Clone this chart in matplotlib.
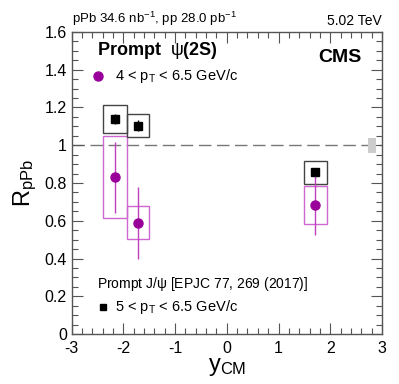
import matplotlib
matplotlib.use("Agg")
import matplotlib.pyplot as plt
import matplotlib.ticker as ticker
from matplotlib.patches import Rectangle

plt.rcParams['font.family'] = ['Liberation Sans', 'DejaVu Sans']
plt.rcParams['mathtext.fontset'] = 'custom'
plt.rcParams['mathtext.rm'] = 'Liberation Sans'
plt.rcParams['mathtext.it'] = 'Liberation Sans'
plt.rcParams['mathtext.bf'] = 'Liberation Sans:bold'
plt.rcParams['axes.unicode_minus'] = False

# rapidity bins (y_CM)
bin_lo = [-2.4, -1.93, 1.5]
bin_hi = [-1.93, -1.5, 1.93]
bin_c = [-2.165, -1.715, 1.715]

# prompt psi(2S), 4 < pT < 6.5 GeV/c
psi_r = [0.83, 0.59, 0.683]
psi_stat = [0.188, 0.19, 0.157]
psi_syst = [0.218, 0.087, 0.099]

# prompt J/psi, 5 < pT < 6.5 GeV/c
jpsi_r = [1.137, 1.104, 0.857]
jpsi_stat = [0.026, 0.03, 0.022]
jpsi_syst = [0.074, 0.06, 0.06]

# global uncertainty
glob_unc = 0.04

purple = '#990099'
purple_line = '#c040c0'
purple_box = '#d066d0'

fig = plt.figure(figsize=(3.99, 3.84), dpi=100)
ax = fig.add_axes([0.180, 0.130, 0.777, 0.787])

ax.axhline(1.0, color='#777777', lw=1.0, ls=(0, (9, 4)), zorder=1)
ax.add_patch(Rectangle((2.73, 1 - glob_unc), 0.16, 2 * glob_unc,
                       facecolor='#cccccc', edgecolor='none', zorder=2))

for i in range(len(bin_c)):
    w = bin_hi[i] - bin_lo[i]
    ax.add_patch(Rectangle((bin_lo[i], psi_r[i] - psi_syst[i]), w, 2 * psi_syst[i],
                           facecolor='none', edgecolor=purple_box, lw=1.0, zorder=3))
    ax.add_patch(Rectangle((bin_lo[i], jpsi_r[i] - jpsi_syst[i]), w, 2 * jpsi_syst[i],
                           facecolor='none', edgecolor='#444444', lw=1.0, zorder=3))

ax.errorbar(bin_c, psi_r, yerr=psi_stat, fmt='none', ecolor=purple_line,
            elinewidth=1.0, capsize=0, zorder=4)
ax.plot(bin_c, psi_r, 'o', color=purple, ms=6.5, zorder=4)
ax.errorbar(bin_c, jpsi_r, yerr=jpsi_stat, fmt='s', color='black', ms=5.5,
            elinewidth=1.0, capsize=0, zorder=5)

ax.set_xlim(-3, 3)
ax.set_ylim(0, 1.6)
ax.xaxis.set_major_locator(ticker.MultipleLocator(1))
ax.xaxis.set_minor_locator(ticker.MultipleLocator(0.2))
ax.yaxis.set_major_locator(ticker.MultipleLocator(0.2))
ax.yaxis.set_minor_locator(ticker.MultipleLocator(0.05))
ax.yaxis.set_major_formatter(ticker.FuncFormatter(lambda v, p: '%g' % round(v, 2)))
ax.tick_params(which='both', direction='in', top=True, right=True, labelsize=11.5,
               width=0.8, color='#555555')
ax.tick_params(which='major', length=8)
ax.tick_params(which='minor', length=4)
ax.tick_params(axis='x', pad=5)
for s in ax.spines.values():
    s.set_color('#555555')
    s.set_linewidth(1.0)

ax.set_xlabel(r'y$_{\rm CM}$', fontsize=17, labelpad=0)
ax.set_ylabel(r'R$_{\rm pPb}$', fontsize=17, labelpad=4)

ax.text(0.0, 1.012, r'pPb 34.6 nb$^{-1}$, pp 28.0 pb$^{-1}$', transform=ax.transAxes,
        fontsize=9.5, ha='left', va='bottom')
ax.text(1.0, 1.012, '5.02 TeV', transform=ax.transAxes,
        fontsize=10, ha='right', va='bottom')

ax.text(0.08, 0.94, r'Prompt  $\psi$(2S)', transform=ax.transAxes,
        fontsize=13, fontweight='bold', ha='left', va='center')
ax.plot([0.085], [0.855], 'o', color=purple, ms=6.5, transform=ax.transAxes)
ax.text(0.14, 0.853, r'4 < p$_{\rm T}$ < 6.5 GeV/c', transform=ax.transAxes,
        fontsize=10.5, ha='left', va='center')
ax.text(0.935, 0.915, 'CMS', transform=ax.transAxes,
        fontsize=14, fontweight='bold', ha='right', va='center')

ax.text(0.08, 0.165, r'Prompt J/$\psi$ [EPJC 77, 269 (2017)]', transform=ax.transAxes,
        fontsize=10, ha='left', va='center')
ax.plot([0.10], [0.09], 's', color='black', ms=5, transform=ax.transAxes)
ax.text(0.14, 0.088, r'5 < p$_{\rm T}$ < 6.5 GeV/c', transform=ax.transAxes,
        fontsize=10.5, ha='left', va='center')

fig.savefig('out.png', dpi=100)
